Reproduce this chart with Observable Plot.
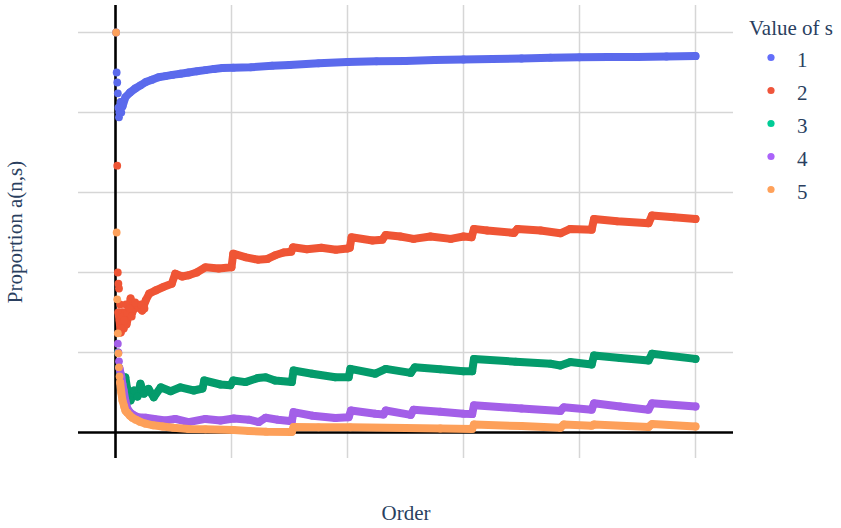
<!DOCTYPE html>
<html><head><meta charset="utf-8">
<script src="https://cdn.jsdelivr.net/npm/d3@7"></script>
<script src="https://cdn.jsdelivr.net/npm/@observablehq/plot@0.6"></script>
<style>
body{margin:0;background:#fff;}
#wrap{position:relative;width:841px;height:528px;}
#wrap svg.legend{position:absolute;left:0;top:0;pointer-events:none;}
</style></head><body><div id="wrap"></div><script>
// ---- data ----
const sValues = ["1","2","3","4","5"];
const legendColors = ["#636efa","#EF553B","#00cc96","#ab63fa","#FFA15A"];
const markColors = ["#5b6aec","#ef5535","#049b6b","#a35fe8","#fda05a"];
const xGrid = [200,400,600,800,1000];
const yGrid = [0.2,0.4,0.6,0.8,1.0];

// s = 1
const s1EarlyN = [1,2,3,4,5,6,8,10];
const s1EarlyV = [1.0,0.90,0.875,0.848,0.812,0.788,0.81,0.80];
const s1N = [7,9,12,17,25,34,43,52,63,74,86,98,112,126,140,155,170,184,203,233,270,300,350,400,450,500,550,600,650,700,750,800,850,900,950,1000];
const s1V = [0.80,0.826,0.815,0.838,0.85,0.86,0.868,0.876,0.882,0.888,0.891,0.894,0.897,0.90,0.903,0.906,0.909,0.911,0.912,0.913,0.917,0.919,0.923,0.926,0.928,0.929,0.931,0.9325,0.934,0.935,0.937,0.938,0.939,0.939,0.940,0.941];

// s = 2
const s2EarlyN = [3,4,5,6,8,10,13,15,18,20,24,28,34,44,50];
const s2EarlyV = [0.667,0.40,0.372,0.36,0.32,0.26,0.29,0.28,0.32,0.30,0.31,0.29,0.325,0.32,0.31];
const s2N = [5,7,9,11,12,14,17,19,22,26,29,32,36,40,46,52,58,69,81,97,103,115,126,140,155,178,200,203,225,245,262,275,290,303,306,330,355,380,400,404,407,443,460,466,491,514,543,578,600,614,618,641,687,693,733,767,784,821,825,865,919,925,963,1000];
const s2V = [0.30,0.28,0.25,0.29,0.30,0.26,0.30,0.27,0.29,0.335,0.30,0.31,0.32,0.313,0.305,0.33,0.347,0.355,0.363,0.372,0.397,0.39,0.393,0.40,0.413,0.41,0.413,0.447,0.438,0.432,0.434,0.443,0.45,0.452,0.463,0.458,0.462,0.457,0.46,0.462,0.488,0.48,0.482,0.494,0.49,0.484,0.49,0.484,0.49,0.488,0.509,0.505,0.499,0.509,0.505,0.498,0.509,0.507,0.534,0.528,0.523,0.5425,0.538,0.534];

// s = 3
const s3EarlyN = [4,6];
const s3EarlyV = [0.20,0.163];
const s3N = [8,12,17,20,26,32,38,43,49,57,66,78,95,112,135,150,153,181,198,203,224,245,259,275,304,307,339,379,402,405,448,466,509,516,560,600,615,618,690,750,767,784,821,825,870,919,925,1000];
const s3V = [0.15,0.12,0.138,0.11,0.08,0.105,0.09,0.122,0.097,0.109,0.088,0.113,0.103,0.113,0.105,0.11,0.13,0.12,0.118,0.13,0.126,0.136,0.138,0.13,0.126,0.155,0.147,0.138,0.138,0.159,0.147,0.159,0.149,0.163,0.158,0.153,0.153,0.184,0.177,0.172,0.1675,0.176,0.17,0.1925,0.186,0.18,0.197,0.184];

// s = 4
const s4EarlyN = [4,5,6];
const s4EarlyV = [0.222,0.20,0.178];
const s4N = [7,10,12,14,17,20,25,32,40,52,70,86,103,126,155,181,204,230,247,259,280,304,307,340,379,402,406,448,462,466,509,514,560,600,615,618,700,767,773,821,825,870,919,925,1000];
const s4V = [0.16,0.14,0.12,0.105,0.08,0.062,0.05,0.043,0.038,0.037,0.033,0.03,0.034,0.026,0.034,0.03,0.035,0.032,0.026,0.037,0.032,0.028,0.051,0.042,0.036,0.038,0.055,0.047,0.045,0.055,0.044,0.057,0.052,0.047,0.046,0.068,0.06,0.054,0.063,0.057,0.073,0.065,0.057,0.073,0.065];

// s = 5
const s5EarlyN = [1,2,3,4,5,6,7];
const s5EarlyV = [1.0,0.5,0.333,0.248,0.198,0.163,0.14];
const s5N = [8,10,12,15,17,20,25,29,35,42,52,65,81,100,126,155,204,230,260,304,307,350,405,500,560,615,618,700,767,773,821,825,919,925,1000];
const s5V = [0.125,0.1,0.08,0.065,0.055,0.05,0.042,0.037,0.032,0.027,0.022,0.018,0.015,0.012,0.009,0.008,0.006,0.004,0.002,0.001,0.014,0.013,0.013,0.011,0.010,0.009,0.02,0.016,0.012,0.02,0.017,0.02,0.014,0.021,0.015];

const xLabel = "Order";
const yLabel = "Proportion a(n,s)";
const legendTitle = "Value of s";

// ---- build ----
const series = [
  {s:"1", eN:s1EarlyN, eV:s1EarlyV, n:s1N, v:s1V},
  {s:"2", eN:s2EarlyN, eV:s2EarlyV, n:s2N, v:s2V},
  {s:"3", eN:s3EarlyN, eV:s3EarlyV, n:s3N, v:s3V},
  {s:"4", eN:s4EarlyN, eV:s4EarlyV, n:s4N, v:s4V},
  {s:"5", eN:s5EarlyN, eV:s5EarlyV, n:s5N, v:s5V}
];
const rows = (s, ns, vs) => ns.map((n, i) => ({s, n, v: vs[i]}));
const font = "'Liberation Serif','Times New Roman',serif";
const textColor = "#2a3f5f";

const marks = [
  Plot.ruleX(xGrid, {stroke: "#d6d6d6", strokeWidth: 1.5}),
  Plot.ruleY(yGrid, {stroke: "#d6d6d6", strokeWidth: 1.5}),
  Plot.ruleX([0], {stroke: "#000", strokeWidth: 2.6}),
  Plot.ruleY([0], {stroke: "#000", strokeWidth: 2.6})
];
for (const d of series) {
  const band = rows(d.s, d.n, d.v);
  const early = rows(d.s, d.eN, d.eV);
  marks.push(Plot.line(band, {x: "n", y: "v", stroke: "s", strokeWidth: 8, strokeLinecap: "round", strokeLinejoin: "round"}));
  marks.push(Plot.dot(band.concat(early), {x: "n", y: "v", fill: "s", r: 3.9}));
}
marks.push(Plot.text([xLabel], {text: d => d, frameAnchor: "bottom", dy: 55, textAnchor: "middle", lineAnchor: "middle", fontSize: 21, fontFamily: font, fill: textColor}));
marks.push(Plot.text([yLabel], {text: d => d, frameAnchor: "left", dx: -63, rotate: -90, textAnchor: "middle", lineAnchor: "middle", fontSize: 21, fontFamily: font, fill: textColor}));

const chart = Plot.plot({
  width: 841, height: 528,
  marginLeft: 78, marginRight: 108, marginTop: 5, marginBottom: 70,
  x: {domain: [-63.8, 1065.5], axis: null},
  y: {domain: [-0.065, 1.0675], axis: null},
  color: {domain: sValues, range: markColors},
  style: {background: "#fff", overflow: "visible"},
  marks
});
const wrap = document.getElementById("wrap");
wrap.appendChild(chart);

// legend overlay
const lg = d3.select(wrap).append("svg").attr("class", "legend").attr("width", 841).attr("height", 528);
lg.append("text").attr("x", 749).attr("y", 34.5).attr("font-family", font).attr("font-size", 21).attr("fill", textColor).text(legendTitle);
sValues.forEach((s, i) => {
  const cy = 57.5 + 33 * i;
  lg.append("circle").attr("cx", 771).attr("cy", cy).attr("r", 3.6).attr("fill", legendColors[i]);
  lg.append("text").attr("x", 797).attr("y", cy + 9.5).attr("font-family", font).attr("font-size", 21).attr("fill", textColor).text(s);
});
</script></body></html>
